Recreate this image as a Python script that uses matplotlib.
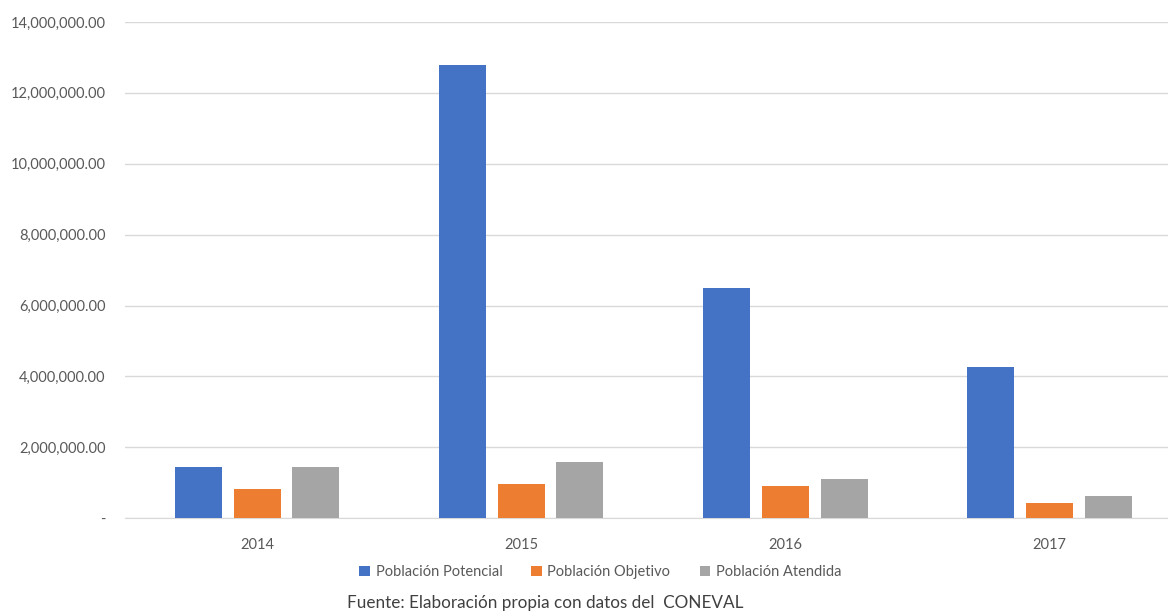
import matplotlib.pyplot as plt
from matplotlib.ticker import FuncFormatter
import numpy as np

years = ["2014", "2015", "2016", "2017"]
potencial = [1440000, 12790000, 6490000, 4260000]
objetivo = [820000, 960000, 900000, 420000]
atendida = [1440000, 1580000, 1100000, 620000]

plt.rcParams['font.family'] = ['Lato', 'DejaVu Sans']

fig = plt.figure(figsize=(11.68, 6.11), dpi=100)
ax = fig.add_axes([0.107, 0.152, 0.893, 0.812])

x = np.arange(len(years))
w = 0.178
off = 0.223
ax.bar(x - off, potencial, w, color='#4472c4', label='Población Potencial', zorder=3)
ax.bar(x, objetivo, w, color='#ed7d31', label='Población Objetivo', zorder=3)
ax.bar(x + off, atendida, w, color='#a5a5a5', label='Población Atendida', zorder=3)

ax.set_xlim(-0.5, 3.45)
ax.set_ylim(0, 14000000)
ax.set_yticks(np.arange(0, 14000001, 2000000))
ax.yaxis.set_major_formatter(FuncFormatter(lambda v, p: '-' if v == 0 else f'{v:,.2f}'))
ax.set_xticks(x)
ax.set_xticklabels(years)
ax.grid(axis='y', color='#d9d9d9', linewidth=1, zorder=0)
for s in ['top', 'right', 'left']:
    ax.spines[s].set_visible(False)
ax.spines['bottom'].set_color('#d9d9d9')
ax.tick_params(length=0, labelsize=10.5, colors='#595959')
ax.tick_params(axis='x', pad=14)
ax.tick_params(axis='y', pad=14)

fig.legend(loc='center', bbox_to_anchor=(0.514, 0.064), ncol=3, frameon=False,
           fontsize=10.5, handlelength=0.7, handleheight=0.7, handletextpad=0.4,
           columnspacing=2.0, labelcolor='#595959')
fig.text(0.467, 0.013, 'Fuente: Elaboración propia con datos del  CONEVAL',
         ha='center', va='center', fontsize=12.3, color='#404040')

fig.savefig('out.png', dpi=100)
